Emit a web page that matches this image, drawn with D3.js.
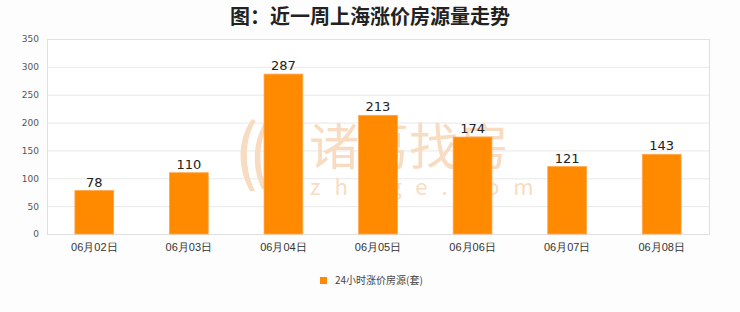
<!DOCTYPE html>
<html>
<head>
<meta charset="utf-8">
<script src="https://cdn.jsdelivr.net/npm/d3@7"></script>
<style>
  body { margin: 0; background: #fdfdfd; }
  svg { display: block; font-family: "Noto Sans CJK SC", "DejaVu Sans", sans-serif; }
</style>
</head>
<body>
<div id="visual"></div>
<script>
const dates = ["06月02日", "06月03日", "06月04日", "06月05日", "06月06日", "06月07日", "06月08日"];
const counts = [78, 110, 287, 213, 174, 121, 143];
const yTicks = [0, 50, 100, 150, 200, 250, 300, 350];
const title = "图：近一周上海涨价房源量走势";
const seriesName = "24小时涨价房源(套)";

const W = 740, H = 312;
const margin = { top: 39, right: 31, bottom: 78, left: 47 };
const width = W - margin.left - margin.right;
const height = H - margin.top - margin.bottom;

const root = d3.select("#visual").append("svg")
  .attr("width", W)
  .attr("height", H);

root.append("rect").attr("width", W).attr("height", H).attr("fill", "#fdfdfd");

root.append("text")
  .attr("x", W / 2)
  .attr("y", 24)
  .attr("text-anchor", "middle")
  .attr("font-size", 20)
  .attr("font-weight", "bold")
  .attr("fill", "#222")
  .text(title);

const svg = root.append("g")
  .attr("transform", `translate(${margin.left},${margin.top})`);

const x = d3.scaleBand().domain(dates).range([0, width]).paddingInner(0.59).paddingOuter(0.295);
const y = d3.scaleLinear().domain([0, 350]).range([height, 0]);

svg.append("rect")
  .attr("width", width).attr("height", height)
  .attr("fill", "#fff");

// grid
svg.append("g")
  .selectAll("line")
  .data(yTicks)
  .join("line")
  .attr("x1", 0).attr("x2", width)
  .attr("y1", d => y(d) + 0.5).attr("y2", d => y(d) + 0.5)
  .attr("stroke", "#e8e8e8");

svg.append("rect")
  .attr("x", 0.5).attr("y", 0.5)
  .attr("width", width).attr("height", height)
  .attr("fill", "none").attr("stroke", "#e0e0e0");

// watermark (logo behind bars)
const wm = svg.append("g").attr("fill", "#f8dcc2");
wm.append("text")
  .attr("x", 262).attr("y", 126)
  .attr("font-size", 50)
  .text("诸葛找房");
wm.append("text")
  .attr("x", 263).attr("y", 156)
  .attr("font-size", 22)
  .attr("letter-spacing", 14)
  .text("zhuge.com");
wm.append("path")
  .attr("transform", "translate(195,80)")
  .attr("d", "M10,0 C-5,20 -5,50 8,72 L13,72 C2,50 2,20 14,2 Z M22,4 C10,25 10,50 20,70 L25,70 C16,50 16,25 26,6 Z");

// y axis
const yAxis = svg.append("g")
  .call(d3.axisLeft(y).tickValues(yTicks).tickSize(0).tickPadding(8));
yAxis.select(".domain").remove();
yAxis.selectAll("text").attr("font-size", 9).attr("fill", "#555").attr("font-family", "DejaVu Sans, sans-serif");

// x axis
const xAxis = svg.append("g")
  .attr("transform", `translate(0,${height})`)
  .call(d3.axisBottom(x).tickSize(0).tickPadding(9));
xAxis.select(".domain").remove();
xAxis.selectAll("text").attr("font-size", 11).attr("fill", "#333");

// bars
svg.selectAll(".bar")
  .data(counts)
  .join("rect")
  .attr("class", "bar")
  .attr("x", (d, i) => x(dates[i]))
  .attr("y", d => y(d))
  .attr("width", x.bandwidth())
  .attr("height", d => height - y(d))
  .attr("fill", "#ff8a00")
  .attr("stroke", "#ffa64d")
  .attr("stroke-width", 0.8);

svg.selectAll(".val")
  .data(counts)
  .join("text")
  .attr("class", "val")
  .attr("x", (d, i) => x(dates[i]) + x.bandwidth() / 2)
  .attr("y", d => y(d) - 4)
  .attr("text-anchor", "middle")
  .attr("font-size", 13)
  .attr("fill", "#222")
  .attr("font-family", "DejaVu Sans, sans-serif")
  .text(d => d);

// legend
const lg = root.append("g").attr("transform", "translate(320,277)");
lg.append("rect").attr("width", 7).attr("height", 7).attr("fill", "#ff8a00");
lg.append("text")
  .attr("x", 15).attr("y", 7)
  .attr("font-size", 10)
  .attr("fill", "#444")
  .text(seriesName);
</script>
</body>
</html>
